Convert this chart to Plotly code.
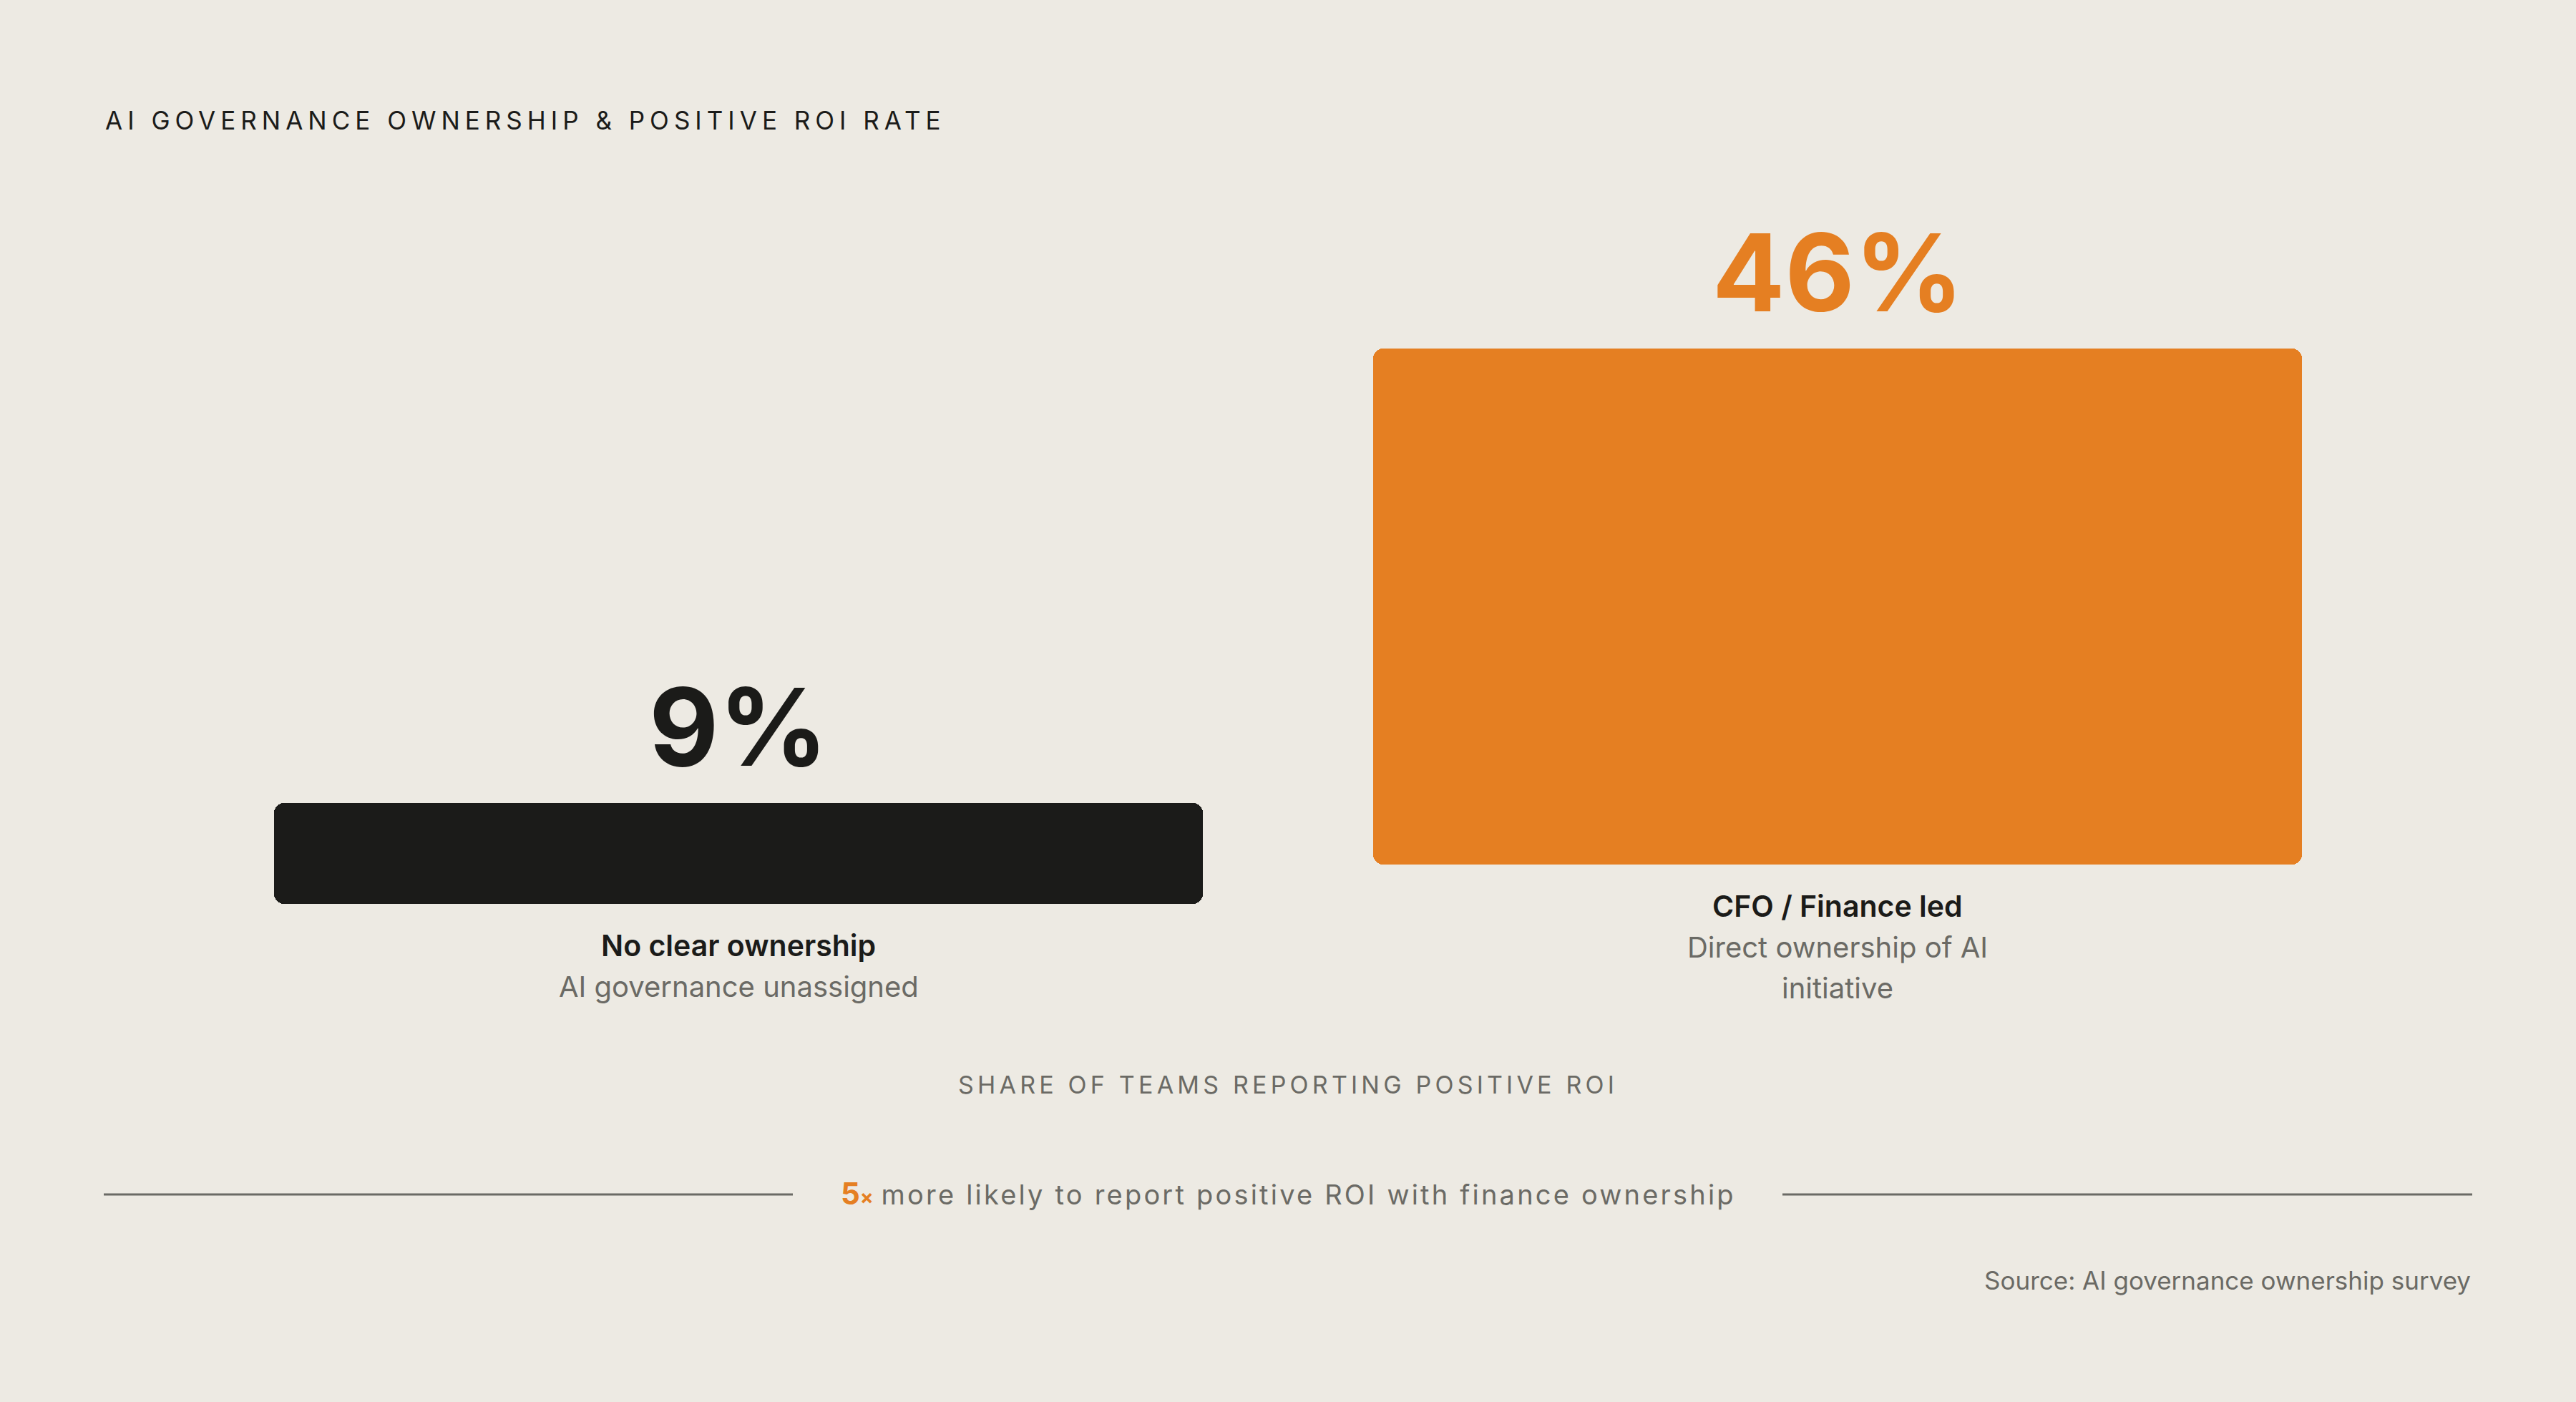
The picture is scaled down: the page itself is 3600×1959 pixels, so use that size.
import plotly.graph_objects as go

# Data
categories = ["No clear ownership", "CFO / Finance led"]
descriptions = [["AI governance unassigned"], ["Direct ownership of AI", "initiative"]]
values = [9, 46]
bar_colors = ["#1b1b19", "#e57f22"]

title_text = "AI GOVERNANCE OWNERSHIP & POSITIVE ROI RATE"
axis_caption = "SHARE OF TEAMS REPORTING POSITIVE ROI"
multiplier = "5"
callout = "more likely to report positive ROI with finance ownership"
source_text = "Source: AI governance ownership survey"

BG = "#edeae3"
GRAY = "#6b6a65"
FONT = "Inter"

W, H = 3600, 1959

fig = go.Figure()

# each bar sits in its own subplot, same scale, bottoms offset like the reference
x_domains = [[383 / W, 1681 / W], [1919 / W, 3217 / W]]
bar_bottoms = [1263, 1208]
bar_span = 721  # px for the largest value

for i, (cat, val) in enumerate(zip(categories, values)):
    sfx = "" if i == 0 else str(i + 1)
    # two overlapping halves so that both ends of the bar get rounded corners
    fig.add_trace(
        go.Bar(
            x=[cat],
            y=[val * 0.6],
            base=[val * 0.4],
            marker=dict(color=bar_colors[i], cornerradius=14, line_width=0),
            xaxis="x" + sfx,
            yaxis="y" + sfx,
            hovertext=[f"{cat}: {val}%"],
            hoverinfo="text",
        )
    )
    fig.add_trace(
        go.Bar(
            x=[cat],
            y=[-val * 0.6],
            base=[val * 0.6],
            marker=dict(color=bar_colors[i], cornerradius=14, line_width=0),
            xaxis="x" + sfx,
            yaxis="y" + sfx,
            hovertext=[f"{cat}: {val}%"],
            hoverinfo="text",
        )
    )
    y0 = 1 - bar_bottoms[i] / H
    fig.update_layout(
        {
            "xaxis" + sfx: dict(domain=x_domains[i], visible=False, fixedrange=True),
            "yaxis" + sfx: dict(
                domain=[y0, y0 + bar_span / H],
                range=[0, max(values)],
                visible=False,
                fixedrange=True,
            ),
        }
    )
    # big value label above bar
    fig.add_annotation(
        x=cat,
        y=val,
        xref="x" + sfx,
        yref="y" + sfx,
        text=f"{val}%",
        showarrow=False,
        yanchor="bottom",
        yshift=14,
        font=dict(family=FONT, size=150, color=bar_colors[i], weight=700),
    )
    # category name + description under bar
    fig.add_annotation(
        x=cat,
        y=0,
        xref="x" + sfx,
        yref="y" + sfx,
        text=cat,
        showarrow=False,
        yanchor="middle",
        yshift=-58,
        font=dict(family=FONT, size=41, color="#1b1b19", weight=600),
    )
    for j, line in enumerate(descriptions[i]):
        fig.add_annotation(
            x=cat,
            y=0,
            xref="x" + sfx,
            yref="y" + sfx,
            text=line,
            showarrow=False,
            yanchor="middle",
            yshift=-58 - 57 * (j + 1),
            font=dict(family=FONT, size=40, color=GRAY),
        )

# title
fig.add_annotation(
    x=145 / W,
    y=1 - 168 / H,
    xref="paper",
    yref="paper",
    xanchor="left",
    yanchor="middle",
    text=f"<span style='letter-spacing:7px'>{title_text}</span>",
    showarrow=False,
    font=dict(family=FONT, size=35, color="#1b1b19"),
)

# caption under bars
fig.add_annotation(
    x=0.5,
    y=1 - 1515 / H,
    xref="paper",
    yref="paper",
    yanchor="middle",
    text=f"<span style='letter-spacing:5.2px'>{axis_caption}</span>",
    showarrow=False,
    font=dict(family=FONT, size=34, color=GRAY),
)

# callout with rules on both sides
fig.add_annotation(
    x=0.5,
    y=1 - 1667 / H,
    xref="paper",
    yref="paper",
    yanchor="middle",
    text=(
        f"<span style='color:#e57f22;font-weight:700;font-size:42px'>{multiplier}</span>"
        "<span style='color:#e57f22;font-weight:700;font-size:28px'>×</span> "
        f"<span style='letter-spacing:3.2px'>{callout}</span>"
    ),
    showarrow=False,
    font=dict(family=FONT, size=38, color=GRAY),
)
for x0, x1 in [(145, 1108), (2491, 3455)]:
    fig.add_shape(
        type="line",
        xref="paper",
        yref="paper",
        x0=x0 / W,
        x1=x1 / W,
        y0=1 - 1669 / H,
        y1=1 - 1669 / H,
        line=dict(color=GRAY, width=3),
    )

# source
fig.add_annotation(
    x=3455 / W,
    y=1 - 1789 / H,
    xref="paper",
    yref="paper",
    xanchor="right",
    yanchor="middle",
    text=source_text,
    showarrow=False,
    font=dict(family=FONT, size=35, color=GRAY),
)

fig.update_layout(
    width=W,
    height=H,
    margin=dict(l=0, r=0, t=0, b=0),
    paper_bgcolor=BG,
    plot_bgcolor=BG,
    showlegend=False,
    barmode="overlay",
    bargap=0,
    font=dict(family=FONT),
)

fig.write_html(
    "out.html",
    config={"displayModeBar": False},
    post_script="document.body.style.margin='0';document.body.style.background='#edeae3';",
)
